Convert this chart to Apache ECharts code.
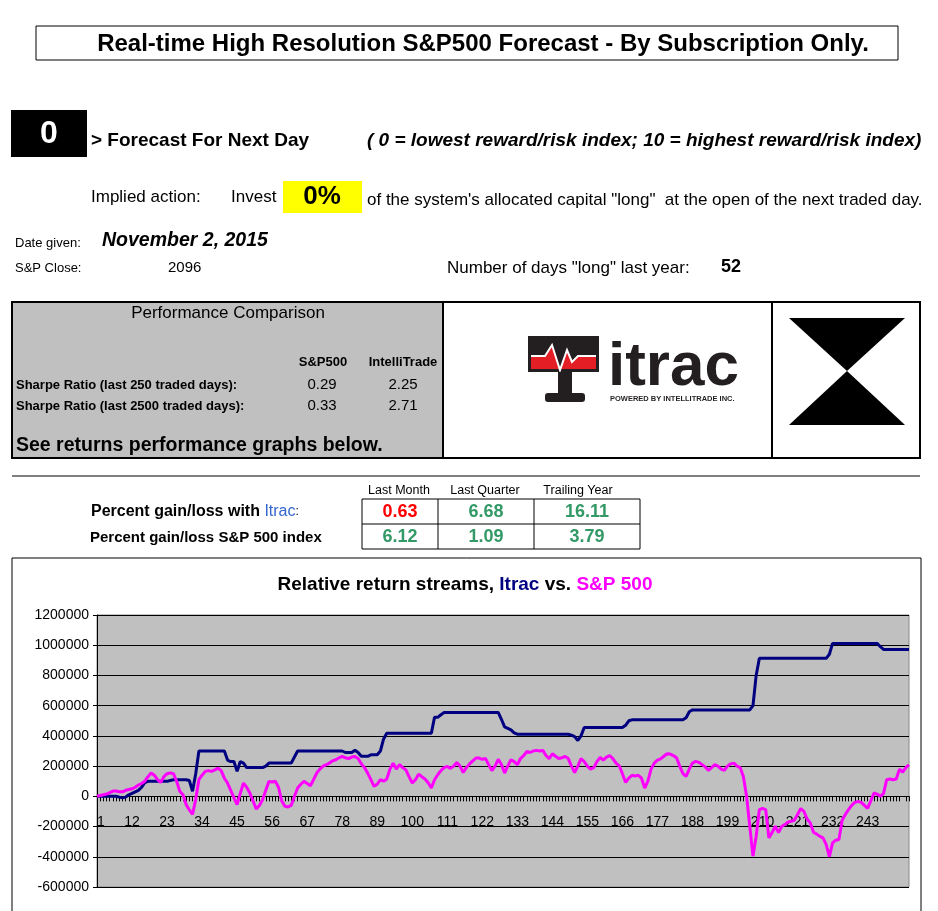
<!DOCTYPE html>
<html><head><meta charset="utf-8">
<script src="https://cdn.jsdelivr.net/npm/echarts@6/dist/echarts.min.js"></script>
<style>html,body{margin:0;padding:0;background:#fff}#c{width:938px;height:911px}</style>
</head><body><div id="c"></div>
<script>
// values in thousands
const itracK = [
0,0,0,0,0,0,0,-5,-10,-5,
10,20,30,40,60,90,99,99,99,99,
99,99,99,105,110,110,110,110,110,105,
33,150,300,300,300,300,300,300,300,300,
300,240,230,230,165,230,220,190,190,190,
190,190,190,200,220,220,220,220,220,220,
220,220,260,300,300,300,300,300,300,300,
300,300,300,300,300,300,300,300,290,290,
290,305,290,265,265,265,275,275,275,300,
380,418,418,418,418,418,418,418,418,418,
418,418,418,418,418,418,523,523,540,555,
555,555,555,555,555,555,555,555,555,555,
555,555,555,555,555,555,555,510,460,450,
440,420,411,411,411,411,411,411,411,411,
411,411,411,411,411,411,411,411,411,405,
395,370,400,455,455,455,455,455,455,455,
455,455,455,455,455,455,470,500,506,506,
506,506,506,506,506,506,506,506,506,506,
506,506,506,506,506,520,560,572,572,572,
572,572,572,572,572,572,572,572,572,572,
572,572,572,572,572,572,600,800,913,913,
913,913,913,913,913,913,913,913,913,913,
913,913,913,913,913,913,913,913,913,913,
940,1012,1012,1012,1012,1012,1012,1012,1012,1012,
1012,1012,1012,1012,1012,1012,990,972,972,972,
972,972,972,972,972,972];
const spK = [
0,5,10,15,25,35,35,30,30,40,
45,50,60,75,85,100,130,155,140,110,
92,130,150,155,150,100,33,10,-55,-90,
-120,-20,110,140,165,170,165,175,187,170,
120,88,40,-10,-55,20,88,60,22,-30,
-84,-60,-22,40,99,95,100,60,-30,-66,
-70,-60,0,55,80,99,85,70,110,154,
180,200,209,220,235,242,255,264,255,250,
260,264,250,216,190,154,110,66,80,110,
100,115,180,220,180,210,190,175,130,88,
110,147,130,115,90,55,110,143,170,190,
198,185,200,224,200,158,190,215,235,253,
253,245,250,210,170,200,245,210,154,200,
242,230,209,250,270,297,290,300,304,300,
304,270,250,282,265,250,255,264,250,200,
158,200,249,230,200,180,190,230,257,240,
260,270,250,220,202,150,92,120,139,135,
139,120,55,100,180,220,240,248,265,282,
280,270,255,200,150,132,180,220,231,225,
210,195,172,190,210,200,180,172,200,215,
220,200,190,130,0,-198,-396,-264,-88,-80,
-88,-275,-240,-198,-240,-200,-187,-170,-165,-158,
-120,-81,-100,-150,-176,-238,-250,-265,-275,-320,
-400,-308,-290,-286,-158,-120,-88,-60,-40,-33,
-40,-60,-80,-30,22,15,0,20,110,115,
110,115,180,160,190,209];
const days = itracK.map((v,i)=>String(i+1));
const perfHeaders = ['Last Month','Last Quarter','Trailing Year'];
const itracPerf = ['0.63','6.68','16.11'];
const spPerf = ['6.12','1.09','3.79'];
const sharpe250 = ['0.29','2.25'];
const sharpe2500 = ['0.33','2.71'];

const F='Arial, "Liberation Sans", sans-serif';
const G='#339966';
function T(x,y,text,o){return Object.assign({type:'text',x:x,y:y,style:Object.assign({text:text,fontFamily:F,fontSize:15,fill:'#000',textVerticalAlign:'middle'},o||{})});}
function R(x,y,w,h,fill,stroke,lw){return {type:'rect',shape:{x:x,y:y,width:w,height:h},style:{fill:fill||'none',stroke:stroke||null,lineWidth:lw||1}};}
function L(x1,y1,x2,y2,lw){return {type:'line',shape:{x1:x1,y1:y1,x2:x2,y2:y2},style:{stroke:'#000',lineWidth:lw||1}};}
const g=[
 R(36,26,862,34,'#fff','#000',1),
 T(483,44,'Real-time High Resolution S&P500 Forecast - By Subscription Only.',{fontSize:24,fontWeight:'bold',textAlign:'center'}),
 R(11,110,76,47,'#000'),
 T(49,134,'0',{fontSize:32,fontWeight:'bold',fill:'#fff',textAlign:'center'}),
 T(91,141,'> Forecast For Next Day',{fontSize:19,fontWeight:'bold'}),
 T(367,141,'( 0 = lowest reward/risk index; 10 = highest reward/risk index)',{fontSize:19,fontWeight:'bold',fontStyle:'italic'}),
 T(91,197,'Implied action:',{fontSize:17}),
 T(231,197,'Invest',{fontSize:17}),
 R(283,181,79,32,'#ffff00'),
 T(322,197,'0%',{fontSize:26,fontWeight:'bold',textAlign:'center'}),
 T(367,200,'of the system\'s allocated capital "long"  at the open of the next traded day.',{fontSize:17}),
 T(15,243,'Date given:',{fontSize:13}),
 T(102,241,'November 2, 2015',{fontSize:19.5,fontWeight:'bold',fontStyle:'italic'}),
 T(15,268,'S&P Close:',{fontSize:13}),
 T(168,268,'2096',{fontSize:15}),
 T(447,268,'Number of days "long" last year:',{fontSize:17}),
 T(721,267,'52',{fontSize:18,fontWeight:'bold'}),
 R(12,302,431,156,'#c0c0c0'),
 R(12,302,908,156,'none','#000',2),
 L(443,302,443,458,2), L(772,302,772,458,2),
 T(228,313,'Performance Comparison',{fontSize:17,textAlign:'center'}),
 T(323,362,'S&P500',{fontSize:13,fontWeight:'bold',textAlign:'center'}),
 T(403,362,'IntelliTrade',{fontSize:13,fontWeight:'bold',textAlign:'center'}),
 T(16,385,'Sharpe Ratio (last 250 traded days):',{fontSize:13,fontWeight:'bold'}),
 T(16,406,'Sharpe Ratio (last 2500 traded days):',{fontSize:13,fontWeight:'bold'}),
 T(322,385,sharpe250[0],{fontSize:15,textAlign:'center'}),
 T(403,385,sharpe250[1],{fontSize:15,textAlign:'center'}),
 T(322,406,sharpe2500[0],{fontSize:15,textAlign:'center'}),
 T(403,406,sharpe2500[1],{fontSize:15,textAlign:'center'}),
 T(16,446,'See returns performance graphs below.',{fontSize:19.5,fontWeight:'bold'}),
 // logo
 R(528,336,71,36,'#231f20'),
 {type:'polygon',shape:{points:[[531,356],[545,356],[552,345],[560,372],[567,350],[572,362],[578,356],[596,356],[596,369],[531,369]]},style:{fill:'#e31e24'}},
 {type:'polyline',shape:{points:[[531,356],[545,356],[552,345],[560,370],[567,350],[572,362],[578,356],[596,356]]},style:{stroke:'#fff',lineWidth:2,fill:null}},
 R(558,372,14,22,'#231f20'),
 {type:'rect',shape:{x:545,y:393,width:40,height:9,r:3},style:{fill:'#231f20'}},
 T(608,368,'itrac',{fontSize:62,fontWeight:'bold',fill:'#231f20'}),
 T(610,399,'POWERED BY INTELLITRADE INC.',{fontSize:7.5,fontWeight:'bold',fill:'#231f20'}),
 {type:'polygon',shape:{points:[[789,318],[905,318],[847,371]]},style:{fill:'#000'}},
 {type:'polygon',shape:{points:[[847,371],[789,425],[905,425]]},style:{fill:'#000'}},
 L(12,476,920,476,1),
 T(399,491,perfHeaders[0],{fontSize:12.5,textAlign:'center'}),
 T(485,491,perfHeaders[1],{fontSize:12.5,textAlign:'center'}),
 T(578,491,perfHeaders[2],{fontSize:12.5,textAlign:'center'}),
 R(362,499,278,50,'none','#000',1),
 L(362,524,640,524), L(438,499,438,549), L(534,499,534,549),
 T(400,512,itracPerf[0],{fontSize:18,fontWeight:'bold',fill:'#ff0000',textAlign:'center'}),
 T(486,512,itracPerf[1],{fontSize:18,fontWeight:'bold',fill:G,textAlign:'center'}),
 T(587,512,itracPerf[2],{fontSize:18,fontWeight:'bold',fill:G,textAlign:'center'}),
 T(400,537,spPerf[0],{fontSize:18,fontWeight:'bold',fill:G,textAlign:'center'}),
 T(486,537,spPerf[1],{fontSize:18,fontWeight:'bold',fill:G,textAlign:'center'}),
 T(587,537,spPerf[2],{fontSize:18,fontWeight:'bold',fill:G,textAlign:'center'}),
 {type:'text',x:91,y:512,style:{rich:{a:{fontFamily:F,fontSize:16,fontWeight:'bold',fill:'#000'},b:{fontFamily:F,fontSize:16,fill:'#3366cc'},c:{fontFamily:F,fontSize:12,fill:'#000'}},text:'{a|Percent gain/loss with }{b|Itrac}{c|:}',textVerticalAlign:'middle'}},
 T(90,538,'Percent gain/loss S&P 500 index',{fontSize:15,fontWeight:'bold'}),
 R(12,558,909,360,'none','#000',1),
 {type:'text',x:465,y:585,style:{rich:{a:{fontFamily:F,fontSize:19,fontWeight:'bold',fill:'#000'},b:{fontFamily:F,fontSize:19,fontWeight:'bold',fill:'#000080'},m:{fontFamily:F,fontSize:19,fontWeight:'bold',fill:'#ff00ff'}},text:'{a|Relative return streams, }{b|Itrac}{a| vs. }{m|S&P 500}',textAlign:'center',textVerticalAlign:'middle'}}
];
const chart=echarts.init(document.getElementById('c'));
chart.setOption({
 animation:false,
 backgroundColor:'#fff',
 grid:{left:97,top:615,width:812,height:272,backgroundColor:'#c0c0c0',show:true,borderWidth:1,borderColor:'#888'},
 xAxis:{type:'category',data:days,boundaryGap:false,
  axisLine:{onZero:true,lineStyle:{color:'#000',width:1}},
  axisTick:{show:true,interval:0,length:5,lineStyle:{color:'#000'}},
  axisLabel:{interval:10,fontSize:14,fontFamily:F,color:'#000',margin:-72,showMaxLabel:false,hideOverlap:false,alignMinLabel:'left'},
  splitLine:{show:false}},
 yAxis:{type:'value',min:-600000,max:1200000,interval:200000,
  axisLine:{show:true,lineStyle:{color:'#000'}},axisTick:{show:true,length:4,lineStyle:{color:'#000'}},
  axisLabel:{fontSize:14,fontFamily:F,color:'#000',margin:8,formatter:v=>String(v)},
  splitLine:{lineStyle:{color:'#000',width:1}}},
 series:[
  {type:'line',data:itracK.map(v=>v*1000),showSymbol:false,lineStyle:{color:'#000080',width:3},z:3},
  {type:'line',data:spK.map(v=>v*1000),showSymbol:false,lineStyle:{color:'#ff00ff',width:3},z:4}
 ],
 graphic:g
});
</script></body></html>
